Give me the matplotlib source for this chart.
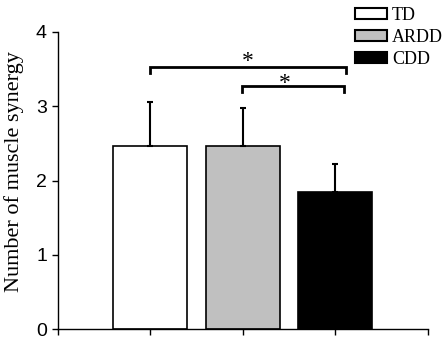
import matplotlib.pyplot as plt
from matplotlib.patches import Patch

groups = ["TD", "ARDD", "CDD"]
means = [2.46, 2.46, 1.85]
sd = [0.60, 0.51, 0.37]
colors = ["white", "#c0c0c0", "black"]

# significance brackets: left x, right x, height
brackets = [(1.0, 3.12, 3.53), (1.99, 3.10, 3.27)]
star_x = [2.05, 2.46]
star_y = [3.60, 3.31]

serif = ["Liberation Serif", "DejaVu Serif"]
sans = ["Liberation Sans", "DejaVu Sans"]

fig = plt.figure(figsize=(4.47, 3.40), dpi=100)
ax = fig.add_axes([58 / 447, 11 / 340, (427.5 - 58) / 447, (329 - 32) / 340])

xpos = [1, 2, 3]
ax.bar(xpos, means, width=0.8, color=colors, edgecolor="black", linewidth=1.2, zorder=2)
ax.errorbar(xpos, means, yerr=[[0, 0, 0], sd], fmt="none", ecolor="black",
            elinewidth=1.5, capsize=2.5, capthick=1.5, zorder=3)

for (x1, x2, y) in brackets:
    ax.plot([x1, x1, x2, x2], [y - 0.08, y, y, y - 0.08], color="black",
            lw=2, solid_joinstyle="miter", clip_on=False)
for x, y in zip(star_x, star_y):
    ax.text(x, y, "*", ha="center", va="center", fontsize=17, family=serif)

ax.set_xlim(0, 4)
ax.set_ylim(0, 4)
ax.set_xticks([0, 1, 2, 3, 4])
ax.set_xticklabels([])
ax.set_yticks([0, 1, 2, 3, 4])
ax.tick_params(axis="both", direction="out", length=4, width=1, color="black")
ax.tick_params(axis="y", labelsize=14, pad=4)
for lab in ax.get_yticklabels():
    lab.set_family(sans)
ax.spines["top"].set_visible(False)
ax.spines["right"].set_visible(False)
ax.spines["left"].set_linewidth(1)
ax.spines["bottom"].set_linewidth(1)

fig.text(14 / 447, 168 / 340, "Number of muscle synergy", rotation=90,
         ha="center", va="center", fontsize=16, family=serif)

handles = [Patch(facecolor=c, edgecolor="black", linewidth=1.5) for c in colors]
fig.legend(handles, groups, loc="upper left", bbox_to_anchor=(355 / 447, 1 - 7 / 340),
           frameon=False, borderpad=0, borderaxespad=0, handlelength=1.75,
           handleheight=0.6, handletextpad=0.3, labelspacing=0.27,
           prop={"family": serif, "size": 13})

fig.savefig("out.png", dpi=100)
